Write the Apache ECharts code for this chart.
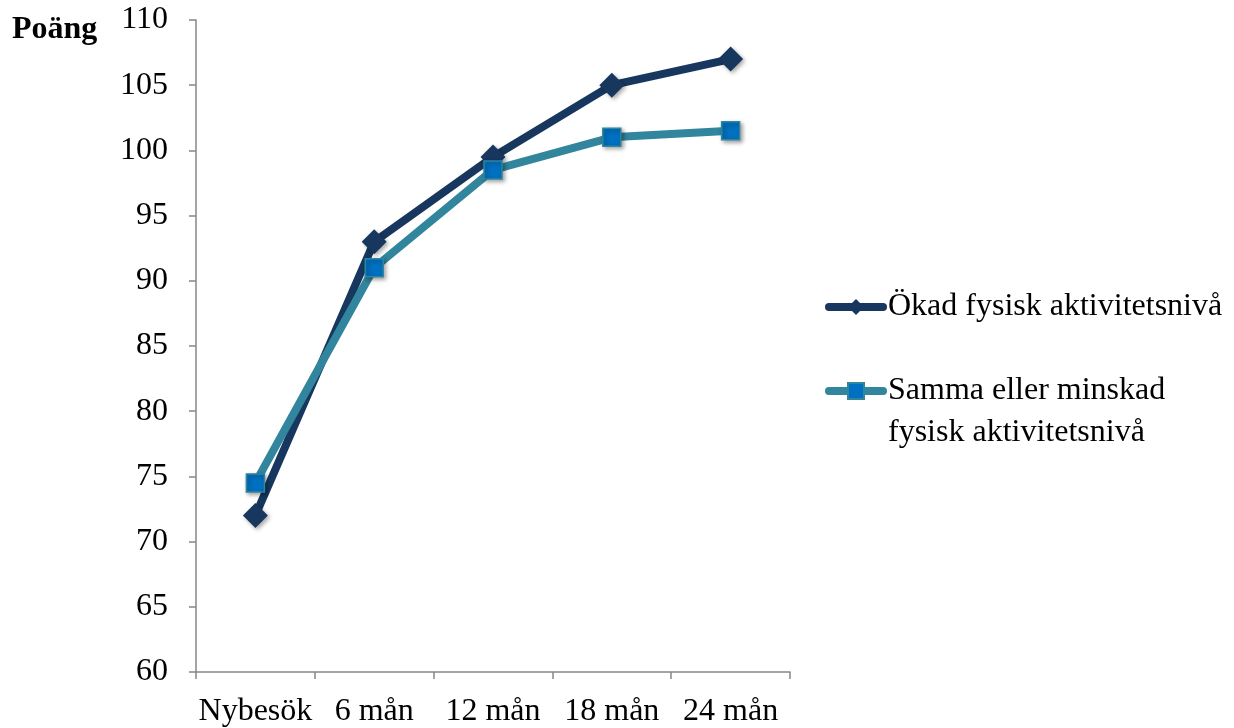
<!DOCTYPE html>
<html>
<head>
<meta charset="utf-8">
<script src="https://cdn.jsdelivr.net/npm/echarts@6/dist/echarts.min.js"></script>
<style>
  html, body { margin: 0; padding: 0; background: #fff; }
  #chart { width: 1234px; height: 728px; }
</style>
</head>
<body>
<div id="chart"></div>
<script>
// Time points of follow-up
const categories = ['Nybesök', '6 mån', '12 mån', '18 mån', '24 mån'];
// Mean scores per group
const okadValues = [72, 93, 99.5, 105, 107];
const sammaValues = [74.5, 91, 98.5, 101, 101.5];
const seriesNames = ['Ökad fysisk aktivitetsnivå', 'Samma eller minskad\nfysisk aktivitetsnivå'];
const yAxisTitle = 'Poäng';

const FONT = '"Liberation Serif", "Times New Roman", serif';
const AXIS_COLOR = '#868686';
const NAVY = '#17375E';
const TEAL = '#31859C';
const BLUE = '#0070C0';

const shadow = {
  shadowBlur: 4,
  shadowOffsetX: 2,
  shadowOffsetY: 2,
  shadowColor: 'rgba(0,0,0,0.35)'
};

const chart = echarts.init(document.getElementById('chart'), null, { renderer: 'canvas' });
chart.setOption({
  animation: false,
  backgroundColor: '#fff',
  title: {
    text: yAxisTitle,
    left: 7,
    top: 9,
    textStyle: { fontFamily: FONT, fontSize: 32, fontWeight: 'bold', color: '#000' }
  },
  grid: { left: 196, top: 20, width: 594, height: 653, containLabel: false },
  legend: {
    orient: 'vertical',
    left: 825,
    top: 286,
    padding: 0,
    itemWidth: 54,
    itemHeight: 20,
    itemGap: 0,
    lineStyle: { width: 8, cap: 'round' },
    textStyle: { fontFamily: FONT, fontSize: 32, color: '#000', lineHeight: 42 },
    // the two-line label gets an empty first row so its first line sits level with the icon
    formatter: name => (name === seriesNames[1] ? ' \n' + name : name),
    data: seriesNames
  },
  xAxis: {
    type: 'category',
    data: categories,
    boundaryGap: true,
    axisLine: { lineStyle: { color: AXIS_COLOR, width: 1.5 } },
    axisTick: { show: true, length: 7, interval: 0, lineStyle: { color: AXIS_COLOR, width: 1.5 } },
    axisLabel: { interval: 0, fontFamily: FONT, fontSize: 32, color: '#000', margin: 24 },
    splitLine: { show: false }
  },
  yAxis: {
    type: 'value',
    min: 60,
    max: 110,
    interval: 5,
    axisLine: { show: true, lineStyle: { color: AXIS_COLOR, width: 1.5 } },
    axisTick: { show: true, length: 7, lineStyle: { color: AXIS_COLOR, width: 1.5 } },
    axisLabel: { fontFamily: FONT, fontSize: 32, color: '#000', margin: 28 },
    splitLine: { show: false }
  },
  series: [
    {
      name: seriesNames[0],
      type: 'line',
      data: okadValues,
      symbol: 'diamond',
      symbolSize: 25,
      lineStyle: { color: NAVY, width: 8, cap: 'round', join: 'round' },
      itemStyle: Object.assign({ color: NAVY, borderColor: NAVY, borderWidth: 0 }, shadow),
      z: 2
    },
    {
      name: seriesNames[1],
      type: 'line',
      data: sammaValues,
      symbol: 'rect',
      symbolSize: 18,
      lineStyle: { color: TEAL, width: 8, cap: 'round', join: 'round' },
      itemStyle: Object.assign({ color: BLUE, borderColor: TEAL, borderWidth: 1.5 }, shadow),
      z: 3
    }
  ]
});
</script>
</body>
</html>
